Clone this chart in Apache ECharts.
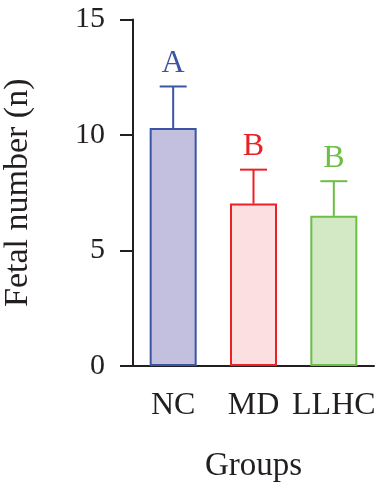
<!DOCTYPE html>
<html>
<head>
<meta charset="utf-8">
<script src="https://cdn.jsdelivr.net/npm/echarts@6/dist/echarts.min.js"></script>
<style>
  html, body { margin: 0; padding: 0; background: #fff; }
  #chart { width: 376px; height: 494px; }
</style>
</head>
<body>
<div id="chart"></div>
<script>
// data
const groups = ['NC', 'MD', 'LLHC'];
const means = [10.3, 7.03, 6.5];
const sds = [1.8, 1.47, 1.5];
const letters = ['A', 'B', 'B'];
const yTicks = [0, 5, 10, 15];

const lineColors = ['#3a55a5', '#ec2027', '#6cbe45'];
const fillColors = ['#c2bfdf', '#fcdfe0', '#d3e8c5'];
const ink = '#231f20';
const serif = 'Liberation Serif';

const chart = echarts.init(document.getElementById('chart'));

let barData = means.map((v, i) => {
    return {
        value: v,
        itemStyle: { color: fillColors[i], borderColor: lineColors[i], borderWidth: 2 }
    };
});
let errData = means.map((v, i) => [i, v, v + sds[i]]);

let option = {
    animation: false,
    grid: { left: 133, right: 2, top: 19.5, bottom: 128, outerBoundsMode: 'none', containLabel: false },
    xAxis: {
        type: 'category',
        data: groups,
        name: 'Groups',
        nameLocation: 'middle',
        nameGap: 84,
        nameTextStyle: { fontFamily: serif, fontSize: 33, color: ink },
        axisLine: { lineStyle: { color: ink, width: 2 } },
        axisTick: { alignWithLabel: true, length: 12, lineStyle: { color: ink, width: 2 } },
        axisLabel: { interval: 0, margin: 24, fontFamily: serif, fontSize: 32, color: ink }
    },
    yAxis: {
        type: 'value',
        min: yTicks[0],
        max: yTicks[yTicks.length - 1],
        interval: 5,
        name: 'Fetal number (n)',
        nameLocation: 'middle',
        nameGap: 98,
        nameTextStyle: { fontFamily: serif, fontSize: 34, color: ink },
        splitLine: { show: false },
        axisLine: { show: true, lineStyle: { color: ink, width: 2 } },
        axisTick: { show: true, length: 13, lineStyle: { color: ink, width: 2 } },
        axisLabel: { margin: 28, fontFamily: serif, fontSize: 30, color: ink }
    },
    series: [
        {
            type: 'bar',
            data: barData,
            barWidth: 47
        },
        {
            type: 'custom',
            data: errData,
            z: 1,
            renderItem: function (params, api) {
                let i = api.value(0);
                let base = api.coord([i, api.value(1)]);
                let top = api.coord([i, api.value(2)]);
                let c = lineColors[params.dataIndex];
                let half = 13.5;
                return {
                    type: 'group',
                    children: [
                        {
                            type: 'line',
                            shape: { x1: base[0], y1: base[1], x2: top[0], y2: top[1] },
                            style: { stroke: c, lineWidth: 2 }
                        },
                        {
                            type: 'line',
                            shape: { x1: top[0] - half, y1: top[1], x2: top[0] + half, y2: top[1] },
                            style: { stroke: c, lineWidth: 2 }
                        },
                        {
                            type: 'text',
                            x: top[0],
                            y: top[1] - 7,
                            style: {
                                text: letters[params.dataIndex],
                                fill: c,
                                font: '32px "Liberation Serif"',
                                align: 'center',
                                verticalAlign: 'bottom'
                            }
                        }
                    ]
                };
            }
        }
    ]
};
chart.setOption(option);
</script>
</body>
</html>
